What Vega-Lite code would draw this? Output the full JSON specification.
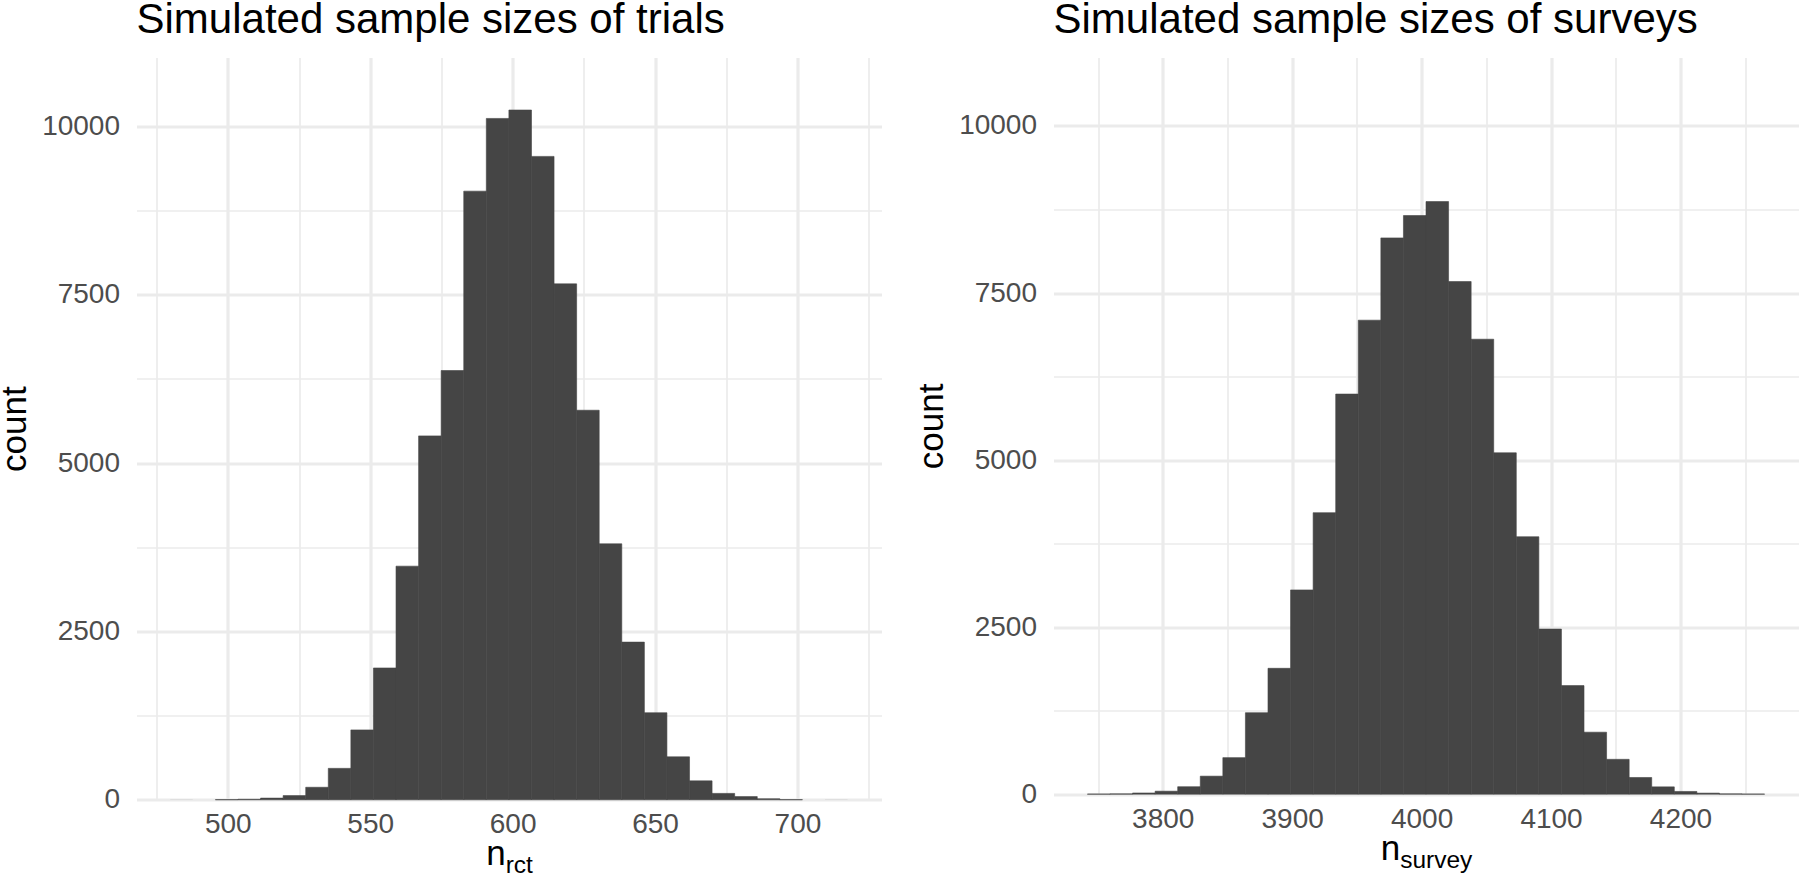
{
  "$schema": "https://vega.github.io/schema/vega-lite/v6.json",
  "background": "white",
  "padding": {"left": -2.5, "top": -1.5, "right": 0, "bottom": 0},
  "spacing": 33,
  "config": {
    "view": {"stroke": null},
    "font": "Liberation Sans",
    "title": {"font": "Liberation Sans", "fontSize": 42, "fontWeight": "normal", "color": "#000000", "anchor": "start", "frame": "group", "baseline": "alphabetic", "offset": 15.5},
    "axis": {"labelFont": "Liberation Sans", "labelFontSize": 28, "labelColor": "#4D4D4D", "titleFont": "Liberation Sans", "titleFontSize": 35, "titleFontWeight": "normal", "titleColor": "#000000", "domain": false, "ticks": false, "tickSize": 0, "gridColor": "#EBEBEB"}
  },
  "datasets": {
    "trials": [
      {"start": 479.80, "end": 487.73, "count": 1},
      {"start": 487.73, "end": 495.65, "count": 0},
      {"start": 495.65, "end": 503.58, "count": 3},
      {"start": 503.58, "end": 511.50, "count": 8},
      {"start": 511.50, "end": 519.43, "count": 25},
      {"start": 519.43, "end": 527.36, "count": 63},
      {"start": 527.36, "end": 535.28, "count": 186},
      {"start": 535.28, "end": 543.21, "count": 467},
      {"start": 543.21, "end": 551.13, "count": 1038},
      {"start": 551.13, "end": 559.06, "count": 1958},
      {"start": 559.06, "end": 566.99, "count": 3470},
      {"start": 566.99, "end": 574.91, "count": 5405},
      {"start": 574.91, "end": 582.84, "count": 6376},
      {"start": 582.84, "end": 590.76, "count": 9040},
      {"start": 590.76, "end": 598.69, "count": 10120},
      {"start": 598.69, "end": 606.62, "count": 10245},
      {"start": 606.62, "end": 614.54, "count": 9556},
      {"start": 614.54, "end": 622.47, "count": 7663},
      {"start": 622.47, "end": 630.39, "count": 5786},
      {"start": 630.39, "end": 638.32, "count": 3802},
      {"start": 638.32, "end": 646.25, "count": 2342},
      {"start": 646.25, "end": 654.17, "count": 1293},
      {"start": 654.17, "end": 662.10, "count": 638},
      {"start": 662.10, "end": 670.02, "count": 282},
      {"start": 670.02, "end": 677.95, "count": 95},
      {"start": 677.95, "end": 685.88, "count": 48},
      {"start": 685.88, "end": 693.80, "count": 16},
      {"start": 693.80, "end": 701.73, "count": 3},
      {"start": 701.73, "end": 709.65, "count": 0},
      {"start": 709.65, "end": 717.58, "count": 1}
    ],
    "surveys": [
      {"start": 3741.80, "end": 3759.24, "count": 2},
      {"start": 3759.24, "end": 3776.68, "count": 5},
      {"start": 3776.68, "end": 3794.12, "count": 18},
      {"start": 3794.12, "end": 3811.56, "count": 45},
      {"start": 3811.56, "end": 3829.00, "count": 112},
      {"start": 3829.00, "end": 3846.44, "count": 270},
      {"start": 3846.44, "end": 3863.88, "count": 547},
      {"start": 3863.88, "end": 3881.32, "count": 1220},
      {"start": 3881.32, "end": 3898.76, "count": 1884},
      {"start": 3898.76, "end": 3916.20, "count": 3057},
      {"start": 3916.20, "end": 3933.64, "count": 4213},
      {"start": 3933.64, "end": 3951.08, "count": 5988},
      {"start": 3951.08, "end": 3968.52, "count": 7094},
      {"start": 3968.52, "end": 3985.96, "count": 8325},
      {"start": 3985.96, "end": 4003.40, "count": 8660},
      {"start": 4003.40, "end": 4020.84, "count": 8869},
      {"start": 4020.84, "end": 4038.28, "count": 7672},
      {"start": 4038.28, "end": 4055.72, "count": 6809},
      {"start": 4055.72, "end": 4073.16, "count": 5109},
      {"start": 4073.16, "end": 4090.60, "count": 3853},
      {"start": 4090.60, "end": 4108.04, "count": 2471},
      {"start": 4108.04, "end": 4125.48, "count": 1625},
      {"start": 4125.48, "end": 4142.92, "count": 928},
      {"start": 4142.92, "end": 4160.36, "count": 522},
      {"start": 4160.36, "end": 4177.80, "count": 250},
      {"start": 4177.80, "end": 4195.24, "count": 110},
      {"start": 4195.24, "end": 4212.68, "count": 41},
      {"start": 4212.68, "end": 4230.12, "count": 16},
      {"start": 4230.12, "end": 4247.56, "count": 5},
      {"start": 4247.56, "end": 4265.00, "count": 2}
    ]
  },
  "hconcat": [
    {
      "title": {"text": "Simulated sample sizes of trials"},
      "width": 745,
      "height": 742.3,
      "data": {"name": "trials"},
      "layer": [
        {
          "mark": {"type": "bar", "color": "#454545", "stroke": "#454545", "strokeWidth": 0.6},
          "encoding": {
            "x": {"field": "start", "type": "quantitative",
              "scale": {"domain": [467.95, 729.5], "nice": false, "zero": false},
              "axis": {"values": [475, 500, 525, 550, 575, 600, 625, 650, 675, 700, 725], "format": "d",
                "labelExpr": "datum.value % 50 === 0 ? datum.label : ''",
                "gridWidth": {"condition": {"test": "datum.value % 50 === 0", "value": 3.2}, "value": 1.7},
                "labelPadding": 11, "title": "n", "titleX": 349.2, "titleY": 65, "titleAlign": "left", "titleBaseline": "alphabetic"}},
            "x2": {"field": "end"},
            "y": {"field": "count", "type": "quantitative",
              "scale": {"domain": [0, 11025], "nice": false},
              "axis": {"values": [0, 1250, 2500, 3750, 5000, 6250, 7500, 8750, 10000], "format": "d",
                "labelExpr": "datum.value % 2500 === 0 ? datum.label : ''",
                "gridWidth": {"condition": {"test": "datum.value % 2500 === 0", "value": 3.2}, "value": 1.7},
                "labelPadding": 17, "title": "count", "titlePadding": 9}},
            "y2": {"datum": 0},
            "strokeOpacity": {"condition": {"test": "datum.count >= 2", "value": 1}, "value": 0}
          }
        },
        {
          "mark": {"type": "bar", "opacity": 0},
          "encoding": {
            "x": {"field": "start", "type": "quantitative",
              "axis": {"orient": "bottom", "grid": false, "labels": false, "title": "rct", "titleFontSize": 24.5, "titleX": 368.7, "titleY": 73, "titleAlign": "left", "titleBaseline": "alphabetic"}},
            "x2": {"field": "end"}
          }
        }
      ],
      "resolve": {"axis": {"x": "independent"}}
    },
    {
      "title": {"text": "Simulated sample sizes of surveys"},
      "width": 745,
      "height": 736.7,
      "data": {"name": "surveys"},
      "layer": [
        {
          "mark": {"type": "bar", "color": "#454545", "stroke": "#454545", "strokeWidth": 0.6},
          "encoding": {
            "x": {"field": "start", "type": "quantitative",
              "scale": {"domain": [3715.6, 4291.2], "nice": false, "zero": false},
              "axis": {"values": [3750, 3800, 3850, 3900, 3950, 4000, 4050, 4100, 4150, 4200, 4250], "format": "d",
                "labelExpr": "datum.value % 100 === 0 ? datum.label : ''",
                "gridWidth": {"condition": {"test": "datum.value % 100 === 0", "value": 3.2}, "value": 1.7},
                "labelPadding": 11, "title": "n", "titleX": 326.7, "titleY": 65, "titleAlign": "left", "titleBaseline": "alphabetic"}},
            "x2": {"field": "end"},
            "y": {"field": "count", "type": "quantitative",
              "scale": {"domain": [0, 11025], "nice": false},
              "axis": {"values": [0, 1250, 2500, 3750, 5000, 6250, 7500, 8750, 10000], "format": "d",
                "labelExpr": "datum.value % 2500 === 0 ? datum.label : ''",
                "gridWidth": {"condition": {"test": "datum.value % 2500 === 0", "value": 3.2}, "value": 1.7},
                "labelPadding": 17, "title": "count", "titlePadding": 9}},
            "y2": {"datum": 0},
            "strokeOpacity": {"condition": {"test": "datum.count >= 2", "value": 1}, "value": 0}
          }
        },
        {
          "mark": {"type": "bar", "opacity": 0},
          "encoding": {
            "x": {"field": "start", "type": "quantitative",
              "axis": {"orient": "bottom", "grid": false, "labels": false, "title": "survey", "titleFontSize": 24.5, "titleX": 346.2, "titleY": 73, "titleAlign": "left", "titleBaseline": "alphabetic"}},
            "x2": {"field": "end"}
          }
        }
      ],
      "resolve": {"axis": {"x": "independent"}}
    }
  ]
}
